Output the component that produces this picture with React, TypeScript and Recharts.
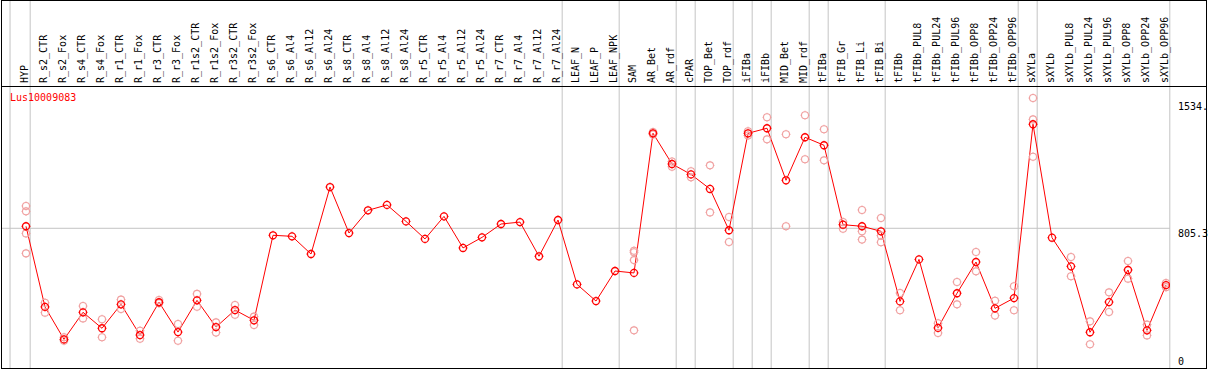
import React from 'react';
import { ComposedChart, Line, Scatter, XAxis, YAxis, ReferenceLine } from 'recharts';

const categories = [
  'HYP', 'R_s2_CTR', 'R_s2_Fox', 'R_s4_CTR', 'R_s4_Fox', 'R_r1_CTR', 'R_r1_Fox', 'R_r3_CTR', 'R_r3_Fox',
  'R_r1s2_CTR', 'R_r1s2_Fox', 'R_r3s2_CTR', 'R_r3s2_Fox', 'R_s6_CTR', 'R_s6_Al4', 'R_s6_Al12', 'R_s6_Al24',
  'R_s8_CTR', 'R_s8_Al4', 'R_s8_Al12', 'R_s8_Al24', 'R_r5_CTR', 'R_r5_Al4', 'R_r5_Al12', 'R_r5_Al24',
  'R_r7_CTR', 'R_r7_Al4', 'R_r7_Al12', 'R_r7_Al24', 'LEAF_N', 'LEAF_P', 'LEAF_NPK', 'SAM', 'AR_Bet', 'AR_rdf',
  'cPAR', 'TOP_Bet', 'TOP_rdf', 'iFIBa', 'iFIBb', 'MID_Bet', 'MID_rdf', 'tFIBa', 'tFIB_Gr', 'tFIB_Li', 'tFIB_Bi',
  'tFIBb', 'tFIBb_PUL8', 'tFIBb_PUL24', 'tFIBb_PUL96', 'tFIBb_OPP8', 'tFIBb_OPP24', 'tFIBb_OPP96',
  'sXYLa', 'sXYLb', 'sXYLb_PUL8', 'sXYLb_PUL24', 'sXYLb_PUL96', 'sXYLb_OPP8', 'sXYLb_OPP24', 'sXYLb_OPP96',
];

// mean expression per sample
const means = [
  817, 352, 165, 321, 229, 367, 190, 379, 207, 390, 236, 334, 275,
  765, 759, 657, 1043, 778, 909, 940, 845, 744, 874, 692, 753, 830, 841, 644, 853,
  482, 386, 559, 548, 1353, 1176, 1116, 1032, 794, 1353, 1382, 1082, 1330, 1284,
  826, 817, 788, 384, 626, 231, 431, 611, 344, 403,
  1405, 751, 586, 206, 380, 565, 217, 478,
];

// individual replicates (empty where they sit under the mean)
const replicates: number[][] = [
  [934, 903, 776, 661], [376, 319], [177, 157], [357, 286], [281, 177], [394, 340], [215, 169],
  [392, 373], [254, 157], [427, 353], [263, 204], [363, 307], [296, 248],
  [], [], [], [], [], [], [], [], [], [], [], [], [], [], [], [],
  [], [], [], [676, 667, 622, 217], [1360, 1346], [1160, 1190], [1134, 1099], [1168, 897], [870, 726],
  [1365, 1340], [1445, 1318], [1347, 817], [1457, 1203], [1376, 1197],
  [842, 803], [911, 788, 740], [865, 763, 725], [432, 333], [], [258, 202], [496, 367], [669, 557],
  [388, 302], [471, 333],
  [1556, 1433, 1218], [], [640, 529], [269, 137], [436, 323], [617, 515], [250, 188], [490, 466],
];

// last sample of each group (gray separator drawn just after it)
const groupEnds = [0, 28, 31, 34, 35, 37, 38, 39, 41, 42, 45, 52, 53, 60];

const yTicks = [0, 805.3, 1534];
const yTickLabels = ['0', '805.3', '1534.'];
const geneName = 'Lus10009083';

const FONT = '"DejaVu Sans Mono", monospace';
const RED = '#ff0000';
const PINK = '#f0a0a0';
const GRID = '#c4c4c4';

const meanData = means.map((v, i) => ({ x: i, v }));
const repData = replicates.flatMap((reps, i) => reps.map((v) => ({ x: i, v })));
const separators = [-0.84, ...groupEnds.map((g) => (g === 60 ? 60.2 : g + 0.22))];

function Ring({ cx, cy, color, w }: { cx: number; cy: number; color: string; w: number }) {
  if (cx == null || cy == null) return null;
  const r = 3.5;
  return (
    <g stroke={color} fill="none">
      <circle cx={cx} cy={cy} r={r} strokeWidth={w} />
      <g strokeWidth={1}>
        <line x1={cx} y1={cy - r} x2={cx} y2={cy - r - 1} />
        <line x1={cx} y1={cy + r} x2={cx} y2={cy + r + 1} />
        <line x1={cx - r} y1={cy} x2={cx - r - 1} y2={cy} />
        <line x1={cx + r} y1={cy} x2={cx + r + 1} y2={cy} />
      </g>
    </g>
  );
}

const CategoryTick = (props: any) => {
  const { x, payload } = props;
  return (
    <text
      transform={`translate(${x + 2},83) rotate(-90)`}
      fontSize={10}
      fontFamily={FONT}
      fill="#000"
      textAnchor="start"
    >
      {categories[payload.value]}
    </text>
  );
};

const ValueTick = (props: any) => {
  const { x, y, payload } = props;
  const idx = yTicks.indexOf(payload.value);
  return (
    <text x={x} y={y + (payload.value === 0 ? -3 : 8.5)} fontSize={10} fontFamily={FONT} fill="#000" textAnchor="start">
      {yTickLabels[idx]}
    </text>
  );
};

export default function App() {
  return (
    <div style={{ position: 'absolute', left: 0, top: 0, width: 1209, height: 370, background: '#fff' }}>
      <ComposedChart width={1209} height={370} margin={{ top: 0, right: 0, bottom: 2, left: 1 }}>
        <XAxis
          type="number"
          dataKey="x"
          orientation="top"
          height={1}
          domain={[-25 / 19, 1144 / 19]}
          allowDataOverflow
          ticks={categories.map((_, i) => i)}
          interval={0}
          axisLine={false}
          tickLine={false}
          tick={<CategoryTick />}
        />
        <YAxis
          type="number"
          dataKey="v"
          orientation="right"
          width={39}
          domain={[0, 2115.5]}
          allowDataOverflow
          ticks={yTicks}
          interval={0}
          axisLine={false}
          tickLine={false}
          tick={<ValueTick />}
        />
        {separators.map((s) => (
          <ReferenceLine key={s} x={s} stroke={GRID} strokeWidth={1} />
        ))}
        <ReferenceLine y={805.3} stroke={GRID} strokeWidth={1} />
        <Scatter
          data={repData}
          dataKey="v"
          isAnimationActive={false}
          shape={(p: any) => <Ring cx={p.cx} cy={p.cy} color={PINK} w={1.1} />}
        />
        <Line
          data={meanData}
          dataKey="v"
          stroke={RED}
          strokeWidth={1}
          isAnimationActive={false}
          dot={(p: any) => <Ring key={`m-${p.index}`} cx={p.cx} cy={p.cy} color={RED} w={1.3} />}
          activeDot={false}
        />
      </ComposedChart>
      <svg
        width={1209}
        height={370}
        style={{ position: 'absolute', left: 0, top: 0, pointerEvents: 'none' }}
      >
        <rect x={1.5} y={0.5} width={1205} height={368} fill="none" stroke="#000" strokeWidth={1} />
        <line x1={1} y1={86.5} x2={1207} y2={86.5} stroke="#000" strokeWidth={1} />
        <text x={10} y={101} fontSize={10} fontFamily={FONT} fill={RED}>
          {geneName}
        </text>
      </svg>
    </div>
  );
}
